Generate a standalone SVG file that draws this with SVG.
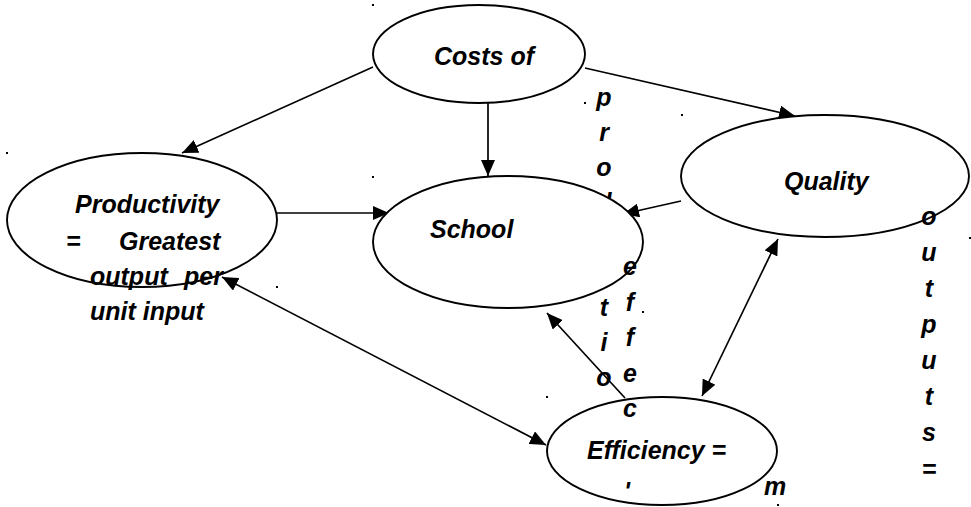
<svg xmlns="http://www.w3.org/2000/svg" width="971" height="507" viewBox="0 0 971 507">
  <style>
    .node ellipse { fill: #ffffff; stroke: #000000; stroke-width: 1.9; }
    .lbl { font-family: "Liberation Sans", Arial, sans-serif; font-size: 25px; font-weight: bold; font-style: italic; fill: #000000; }
    .col { text-anchor: middle; }
    .edge { stroke: #000000; stroke-width: 1.7; fill: none; marker-end: url(#head); }
    .both { marker-start: url(#head); }
    .anchor { fill: #000000; }
  </style>
  <defs>
    <marker id="head" viewBox="0 0 16 14" markerWidth="16" markerHeight="14" refX="16" refY="7" orient="auto-start-reverse" markerUnits="userSpaceOnUse">
      <path d="M0,0 L16,7 L0,14 z" fill="#000000"/>
    </marker>
  </defs>
  <rect width="971" height="507" fill="#ffffff"/>

  <!-- vertical letter column running behind the School node -->
  <g id="column-production">
    <text class="lbl col"><tspan x="604" y="106">p</tspan><tspan x="604" y="141">r</tspan><tspan x="604" y="176">o</tspan><tspan x="604" y="211">d</tspan><tspan x="604" y="316">t</tspan><tspan x="604" y="351">i</tspan><tspan x="604" y="386">o</tspan></text>
  </g>

  <!-- connectors -->
  <g id="connectors">
    <line class="edge" x1="373" y1="67" x2="182" y2="153"/>
    <line class="edge" x1="488" y1="103" x2="488" y2="176"/>
    <line class="edge" x1="585" y1="68" x2="795" y2="116"/>
    <line class="edge" x1="277" y1="213" x2="389" y2="213"/>
    <line class="edge" x1="681" y1="201" x2="623" y2="214"/>
    <line class="edge" x1="625" y1="398" x2="547" y2="313"/>
    <line class="edge both" x1="222" y1="277" x2="546" y2="445"/>
    <line class="edge both" x1="778" y1="239" x2="702" y2="396"/>
  </g>

  <g id="costs" class="node">
    <ellipse cx="479" cy="54" rx="106" ry="49"/>
    <text class="lbl" x="434" y="65">Costs of</text>
  </g>

  <g id="productivity" class="node">
    <ellipse cx="142" cy="220" rx="135" ry="67"/>
    <text class="lbl" x="75" y="213">Productivity</text>
    <text class="lbl" x="66" y="250">=</text>
    <text class="lbl" x="119" y="250">Greatest</text>
    <text class="lbl" x="90" y="285">output</text>
    <text class="lbl" x="184" y="285">per</text>
    <text class="lbl" x="90" y="320">unit input</text>
  </g>

  <g id="school" class="node">
    <ellipse cx="508" cy="242" rx="135" ry="66"/>
    <text class="lbl" x="430" y="238">School</text>
  </g>

  <g id="quality" class="node">
    <ellipse cx="825" cy="176" rx="144" ry="61"/>
    <text class="lbl" x="784" y="190">Quality</text>
  </g>

  <g id="efficiency" class="node">
    <ellipse cx="662" cy="451" rx="115" ry="54"/>
    <text class="lbl" x="587" y="459">Efficiency =</text>
    <text class="lbl" x="624" y="500">'</text>
  </g>

  <!-- letter columns drawn over the nodes -->
  <g id="column-effective">
    <text class="lbl col"><tspan x="630" y="275">e</tspan><tspan x="630" y="310.5">f</tspan><tspan x="630" y="346">f</tspan><tspan x="630" y="381.5">e</tspan><tspan x="630" y="417">c</tspan></text>
  </g>
  <g id="column-outputs">
    <text class="lbl col"><tspan x="929" y="225">o</tspan><tspan x="929" y="261">u</tspan><tspan x="929" y="297">t</tspan><tspan x="929" y="333">p</tspan><tspan x="929" y="369">u</tspan><tspan x="929" y="405">t</tspan><tspan x="929" y="441">s</tspan><tspan x="929" y="478">=</tspan></text>
  </g>
  <g id="column-m">
    <text class="lbl" x="764" y="495">m</text>
  </g>

  <!-- small anchor marks at the node corners -->
  <g id="anchors" class="anchor">
    <rect x="372" y="4" width="2" height="2"/>
    <rect x="584" y="102" width="2" height="2"/>
    <rect x="6" y="152" width="2" height="2"/>
    <rect x="276" y="286" width="2" height="2"/>
    <rect x="372" y="176" width="2" height="2"/>
    <rect x="642" y="311" width="2" height="2"/>
    <rect x="681" y="114" width="2" height="2"/>
    <rect x="969" y="237" width="2" height="2"/>
    <rect x="546" y="396" width="2" height="2"/>
    <rect x="777" y="504" width="2" height="2"/>
  </g>
</svg>
